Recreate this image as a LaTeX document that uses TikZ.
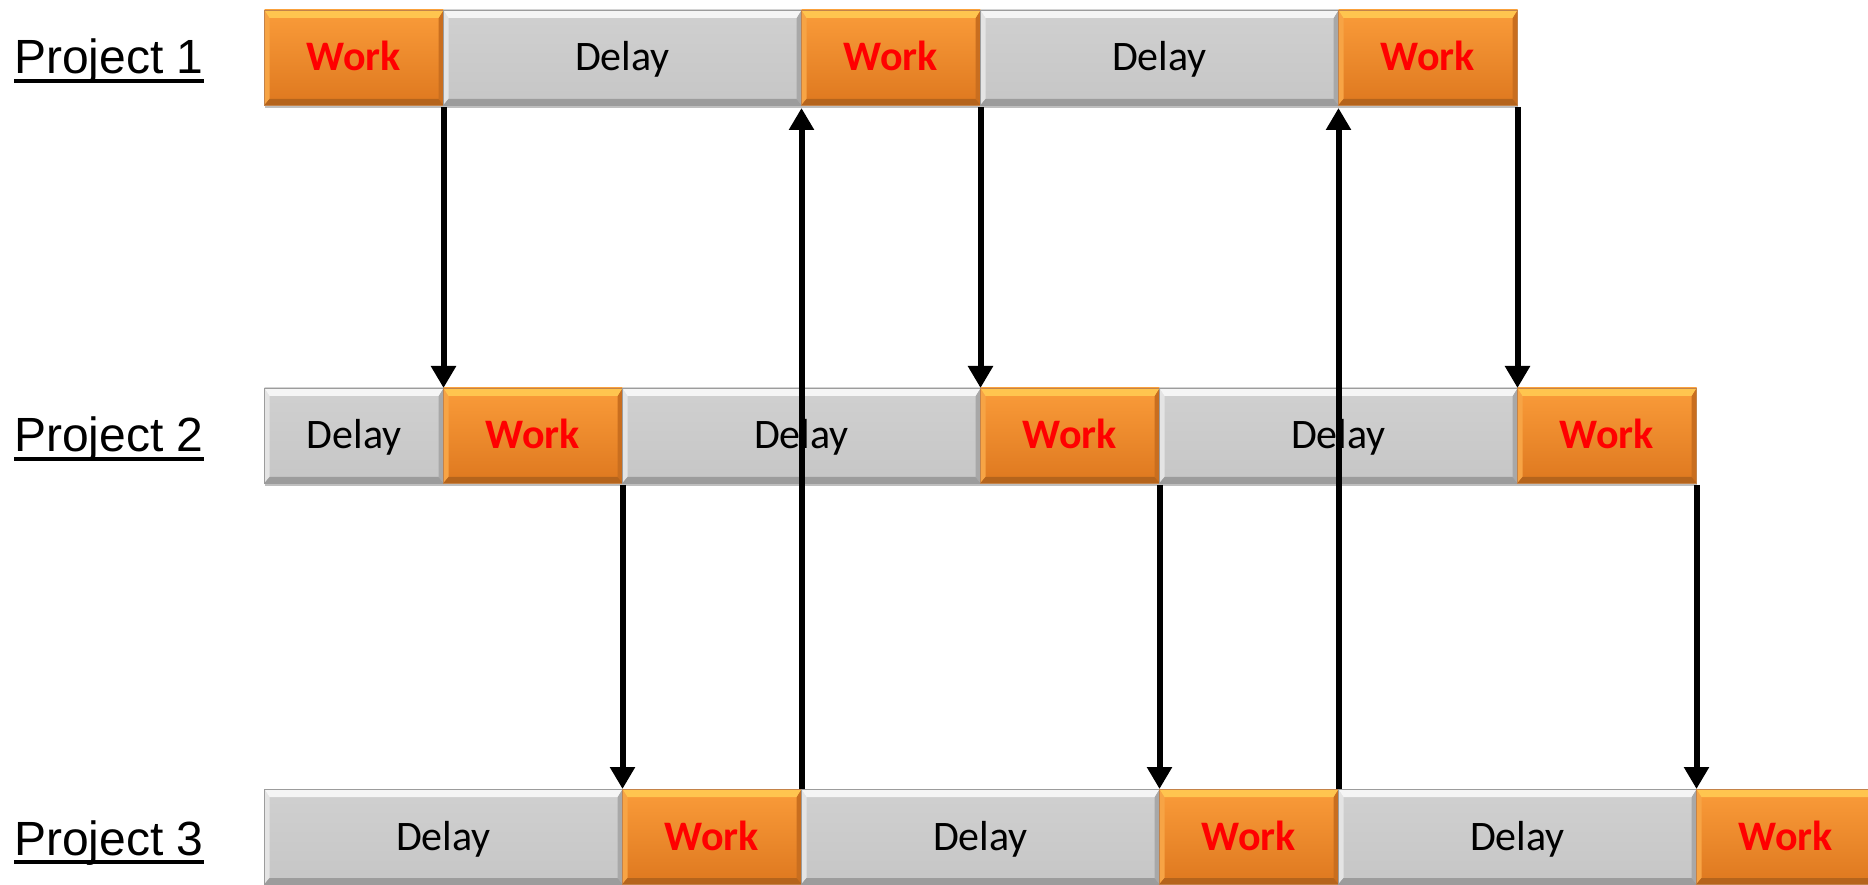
\documentclass[tikz,border=0pt]{standalone}
\usepackage{fontspec}
\setmainfont{Liberation Sans}
\newfontfamily\calibri{Carlito}
\usetikzlibrary{arrows.meta,shadows}

\definecolor{orTop}{HTML}{FA9C3A}
\definecolor{orBot}{HTML}{DE781F}
\definecolor{orLight}{HTML}{FFC54F}
\definecolor{orDark}{HTML}{B5641C}
\definecolor{orLeft}{HTML}{F7A445}
\definecolor{orRight}{HTML}{C96E1F}
\definecolor{grTop}{HTML}{D0D0D0}
\definecolor{grBot}{HTML}{C6C6C6}
\definecolor{grLight}{HTML}{F5F5F5}
\definecolor{grDark}{HTML}{9C9C9C}
\definecolor{grLeft}{HTML}{E4E4E4}
\definecolor{grRight}{HTML}{A8A8A8}

\newcommand{\myul}[1]{\setbox0\hbox{#1}\rlap{\vrule width\wd0 height -5pt depth 9pt}\box0}

\tikzset{
  x=1pt, y=1pt,
  bevel/.style n args={4}{path picture={
    \coordinate (nw) at (path picture bounding box.north west);
    \coordinate (ne) at (path picture bounding box.north east);
    \coordinate (sw) at (path picture bounding box.south west);
    \coordinate (se) at (path picture bounding box.south east);
    \fill[#3] (nw) -- (sw) -- ([shift={(5pt,6pt)}]sw) -- ([shift={(5pt,-8pt)}]nw) -- cycle;
    \fill[#4] (ne) -- (se) -- ([shift={(-5pt,6pt)}]se) -- ([shift={(-5pt,-8pt)}]ne) -- cycle;
    \fill[#1] (nw) -- (ne) -- ([shift={(-5pt,-8pt)}]ne) -- ([shift={(5pt,-8pt)}]nw) -- cycle;
    \fill[#2] (sw) -- (se) -- ([shift={(-5pt,6pt)}]se) -- ([shift={(5pt,6pt)}]sw) -- cycle;
  }},
  boxbase/.style={anchor=south west, minimum height=95pt, inner sep=0pt, outer sep=0pt,
    text height=30pt, text depth=3pt,
    drop shadow={shadow xshift=0pt, shadow yshift=-3pt, opacity=0.25, fill=black}},
  workbox/.style={boxbase, top color=orTop, bottom color=orBot,
    bevel={orLight}{orDark}{orLeft}{orRight}, draw=orDark!80, line width=0.6pt,
    text=red, font=\calibri\bfseries\fontsize{42}{50}\selectfont},
  delaybox/.style={boxbase, top color=grTop, bottom color=grBot,
    bevel={grLight}{grDark}{grLeft}{grRight}, draw=grDark, line width=0.6pt,
    text=black, font=\calibri\fontsize{42}{50}\selectfont},
  one/.style={minimum width=179pt},
  two/.style={minimum width=358pt},
  lab/.style={anchor=base west, inner sep=0pt, font=\fontsize{48}{56}\selectfont},
  conn/.style={line width=6pt, -{Triangle[width=24pt,length=22pt]}}
}

\begin{document}
\begin{tikzpicture}
\clip (0,0) rectangle (1868,884);
\fill[white] (0,0) rectangle (1868,884);

% labels
\node[lab] (p1) at (14,810) {\myul{Project 1}};
\node[lab] (p2) at (14,432) {\myul{Project 2}};
\node[lab] (p3) at (14,29) {\myul{Project 3}};

% row 1
\node[workbox,one]  (a1) at (264.5,779) {Work};
\node[delaybox,two] (a2) at (443.5,779) {Delay};
\node[workbox,one]  (a3) at (801.5,779) {Work};
\node[delaybox,two] (a4) at (980.5,779) {Delay};
\node[workbox,one]  (a5) at (1338.5,779) {Work};

% row 2
\node[delaybox,one] (b1) at (264.5,401) {Delay};
\node[workbox,one]  (b2) at (443.5,401) {Work};
\node[delaybox,two] (b3) at (622.5,401) {Delay};
\node[workbox,one]  (b4) at (980.5,401) {Work};
\node[delaybox,two] (b5) at (1159.5,401) {Delay};
\node[workbox,one]  (b6) at (1517.5,401) {Work};

% row 3
\node[delaybox,two] (c1) at (264.5,0) {Delay};
\node[workbox,one]  (c2) at (622.5,0) {Work};
\node[delaybox,two] (c3) at (801.5,0) {Delay};
\node[workbox,one]  (c4) at (1159.5,0) {Work};
\node[delaybox,two] (c5) at (1338.5,0) {Delay};
\node[workbox,one]  (c6) at (1696.5,0) {Work};

% arrows
\draw[conn] ([yshift=-2pt]a1.south east) -- (b2.north west);
\draw[conn] ([yshift=-2pt]a3.south east) -- (b4.north west);
\draw[conn] ([yshift=-2pt]a5.south east) -- (b6.north west);
\draw[conn] ([yshift=-2pt]b2.south east) -- (c2.north west);
\draw[conn] ([yshift=-2pt]b4.south east) -- (c4.north west);
\draw[conn] ([yshift=-2pt]b6.south east) -- (c6.north west);
\draw[conn] (c2.north east) -- ([yshift=-3pt]a3.south west);
\draw[conn] (c4.north east) -- ([yshift=-3pt]a5.south west);
\end{tikzpicture}
\end{document}
